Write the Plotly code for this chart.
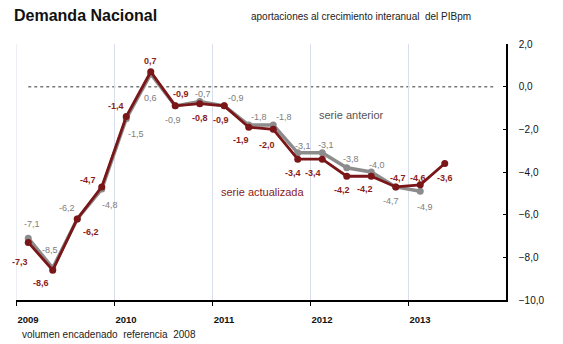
import plotly.graph_objects as go

# Quarterly contributions of national demand to GDP growth (2009Q1 - 2013Q2)
quarters = ["2009T1", "2009T2", "2009T3", "2009T4",
            "2010T1", "2010T2", "2010T3", "2010T4",
            "2011T1", "2011T2", "2011T3", "2011T4",
            "2012T1", "2012T2", "2012T3", "2012T4",
            "2013T1", "2013T2"]
serie_actualizada = [-7.3, -8.6, -6.2, -4.7, -1.4, 0.7, -0.9, -0.8, -0.9,
                     -1.9, -2.0, -3.4, -3.4, -4.2, -4.2, -4.7, -4.6, -3.6]
serie_anterior = [-7.1, -8.5, -6.2, -4.8, -1.5, 0.6, -0.9, -0.7, -0.9,
                  -1.8, -1.8, -3.1, -3.1, -3.8, -4.0, -4.7, -4.9]
years = [2009, 2010, 2011, 2012, 2013]
y_ticks = [2, 0, -2, -4, -6, -8, -10]

# label offsets in pixels (dx right, dy down) relative to each marker
act_off = [(-8, 20), (-12, 13), (14, 13), (-14, -7), (-10, -11), (0, -11),
           (6, -12), (0, 14), (-3, 14), (-8, 13), (-6, 16), (-5, 14),
           (-9, 14), (-5, 14), (-6, 13), (2, -9), (-2, -7), (0, 15)]
ant_off = [(4, -14), (-3, -18), (-10, -11), (8, 16), (10, 15), (0, 24),
           (-2, 14), (3, -8), (12, -8), (10, -8), (11, -8), (5, -7),
           (4, -8), (4, -9), (6, -7), (-5, 14), (5, 16)]

RED = "#7a1518"
GREY = "#8c8c8c"
GRID = "#d9dfea"
FONT = "Arial, Liberation Sans, sans-serif"

# page size and plot-area margins in pixels
L, R, T, B = 16, 57, 44, 44
W, H = 563, 344
pw, ph = W - L - R, H - T - B


def px_to_paper(x, y):
    return (x - L) / pw, 1 - (y - T) / ph


def qpos(i):
    # mid-quarter position on a continuous year axis
    year = int(quarters[i][:4])
    q = int(quarters[i][-1])
    return year + (q - 0.5) / 4


x_act = [qpos(i) for i in range(len(serie_actualizada))]
x_ant = [qpos(i) for i in range(len(serie_anterior))]


def fmt(v):
    return f"{v:.1f}".replace(".", ",")


fig = go.Figure()
fig.add_trace(go.Scatter(x=x_ant, y=serie_anterior, mode="lines+markers",
                         line=dict(color=GREY, width=3.5),
                         marker=dict(size=7, color=GREY),
                         hoverinfo="skip", showlegend=False))
fig.add_trace(go.Scatter(x=x_act, y=serie_actualizada, mode="lines+markers",
                         line=dict(color=RED, width=2.8),
                         marker=dict(size=7, color=RED),
                         hoverinfo="skip", showlegend=False))

annotations = []
for xv, yv, (dx, dy) in zip(x_ant, serie_anterior, ant_off):
    annotations.append(dict(x=xv, y=yv, text=fmt(yv), showarrow=False,
                            xshift=dx, yshift=-dy,
                            font=dict(family=FONT, size=9, color="#7d7d7d")))
for xv, yv, (dx, dy) in zip(x_act, serie_actualizada, act_off):
    annotations.append(dict(x=xv, y=yv, text=f"<b>{fmt(yv)}</b>", showarrow=False,
                            xshift=dx, yshift=-dy,
                            font=dict(family=FONT, size=9, color="#8a1c20")))


def text_at(px, py, text, size, color, anchor="center"):
    x, y = px_to_paper(px, py)
    return dict(x=x, y=y, xref="paper", yref="paper", text=text,
                showarrow=False, xanchor=anchor, yanchor="middle",
                font=dict(family=FONT, size=size, color=color))


annotations += [
    text_at(351, 115, "serie anterior", 11, "#555555"),
    text_at(262, 192, "serie actualizada", 11, "#8a1c20"),
    text_at(12, 15, "<b>Demanda Nacional</b>", 16, "#111111", "left"),
    text_at(249, 16, "aportaciones al crecimiento interanual  del PIBpm",
            10, "#222222", "left"),
    text_at(20, 334, "volumen encadenado  referencia  2008", 10, "#222222",
            "left"),
]

fig.update_layout(
    width=W, height=H,
    margin=dict(l=L, r=R, t=T, b=B, pad=0),
    paper_bgcolor="white", plot_bgcolor="white",
    separators=",.",
    annotations=annotations,
    shapes=[
        # grid line on the left edge of the year axis
        dict(type="line", xref="x", yref="paper", x0=years[0], x1=years[0],
             y0=0, y1=1, layer="below", line=dict(color=GRID, width=1)),
        dict(type="line", xref="x", yref="y", x0=2009.125, x1=2013.9,
             y0=0, y1=0, layer="below",
             line=dict(color="#7a7a7a", width=1.5, dash="dot")),
    ],
    xaxis=dict(range=[2009, 2014], tickvals=years,
               ticktext=[f"<b>{y}</b>" for y in years],
               ticklabelshift=12, ticklabelstandoff=6,
               showgrid=True, gridcolor=GRID, gridwidth=1,
               showline=True, linecolor="black", linewidth=1.5,
               ticks="outside", ticklen=4, tickcolor="black", zeroline=False,
               tickfont=dict(family=FONT, size=9.5, color="#111111")),
    yaxis=dict(range=[-10, 2], tickvals=y_ticks, tickformat=".1f",
               side="right", showgrid=False, zeroline=False,
               showline=True, linecolor="black", linewidth=1.5,
               ticks="inside", ticklen=3, tickcolor="black",
               ticklabelstandoff=9,
               tickfont=dict(family=FONT, size=10, color="#111111")),
)

fig.write_html("out.html")
